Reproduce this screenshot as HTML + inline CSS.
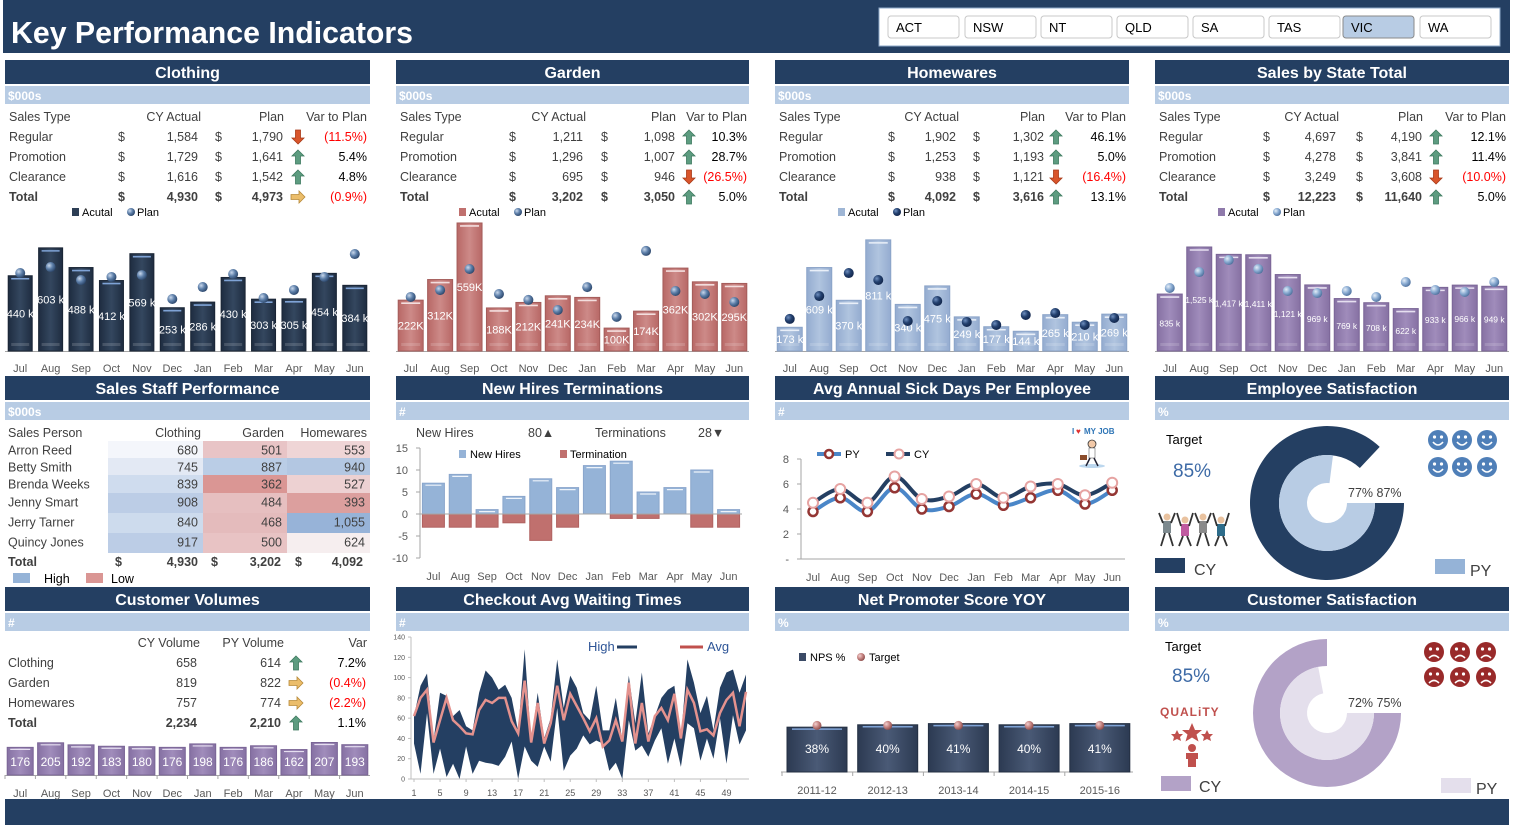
<!DOCTYPE html>
<html><head><meta charset="utf-8">
<style>
html,body{margin:0;padding:0;background:#fff;}
svg{display:block;font-family:"Liberation Sans",sans-serif;}
.t{font-size:12.5px;fill:#404040;}
.b{font-weight:bold;}
.ttl{font-size:16px;font-weight:bold;fill:#fff;}
.sub{font-size:12px;font-weight:bold;fill:#fff;}
.ax{font-size:11px;fill:#595959;}
</style></head><body>
<svg id="s" width="1514" height="829" xmlns="http://www.w3.org/2000/svg">
<defs>
<linearGradient id="gDark" x1="0" x2="1"><stop offset="0" stop-color="#1e2c40"/><stop offset="0.5" stop-color="#34475f"/><stop offset="1" stop-color="#1e2c40"/></linearGradient>
<linearGradient id="gRed" x1="0" x2="1"><stop offset="0" stop-color="#b86866"/><stop offset="0.5" stop-color="#cd8a88"/><stop offset="1" stop-color="#b86866"/></linearGradient>
<linearGradient id="gLB" x1="0" x2="1"><stop offset="0" stop-color="#94acd0"/><stop offset="0.5" stop-color="#b0c4df"/><stop offset="1" stop-color="#94acd0"/></linearGradient>
<linearGradient id="gPur" x1="0" x2="1"><stop offset="0" stop-color="#8671a3"/><stop offset="0.5" stop-color="#a08cbb"/><stop offset="1" stop-color="#8671a3"/></linearGradient>
<linearGradient id="gNps" x1="0" x2="1"><stop offset="0" stop-color="#2c3a52"/><stop offset="0.5" stop-color="#4a5a76"/><stop offset="1" stop-color="#2c3a52"/></linearGradient>
<radialGradient id="dBlue" cx="0.35" cy="0.35" r="0.7"><stop offset="0" stop-color="#c9d8ec"/><stop offset="0.5" stop-color="#5d7fa9"/><stop offset="1" stop-color="#2a4468"/></radialGradient>
<radialGradient id="dNavy" cx="0.35" cy="0.35" r="0.7"><stop offset="0" stop-color="#6f8fbf"/><stop offset="0.5" stop-color="#23406e"/><stop offset="1" stop-color="#12254a"/></radialGradient>
<radialGradient id="dLight" cx="0.35" cy="0.35" r="0.7"><stop offset="0" stop-color="#e4eef8"/><stop offset="0.5" stop-color="#8cadd3"/><stop offset="1" stop-color="#4c6f9c"/></radialGradient>
<radialGradient id="dPink" cx="0.35" cy="0.35" r="0.7"><stop offset="0" stop-color="#f1d0cf"/><stop offset="0.5" stop-color="#c78684"/><stop offset="1" stop-color="#8a4a48"/></radialGradient>
</defs>

<rect x="3" y="0" width="1507" height="53" fill="#243f62"/>
<text x="11" y="43" font-size="31" font-weight="bold" fill="#fff" textLength="402" lengthAdjust="spacingAndGlyphs">Key Performance Indicators</text>
<rect x="879" y="8" width="621" height="38" fill="#fff" stroke="#8ea9c8"/>
<g id="slicer"></g>
<g id="panels"></g>
<rect x="5" y="799" width="1504" height="26" fill="#243f62"/>
</svg>

<script>
const NS="http://www.w3.org/2000/svg";
const svg=document.getElementById('s');
function mk(tag,attrs,parent){const e=document.createElementNS(NS,tag);for(const k in attrs)e.setAttribute(k,attrs[k]);(parent||svg).appendChild(e);return e;}
function tx(x,y,str,attrs,parent){const e=mk('text',Object.assign({x:x,y:y},attrs||{}),parent);e.textContent=str;return e;}

const states=['ACT','NSW','NT','QLD','SA','TAS','VIC','WA'];
const stateX=[888,965,1041,1117,1193,1269,1343,1420];
const slicer=document.getElementById('slicer');
states.forEach((s,i)=>{
  const r=mk('rect',{x:stateX[i],y:16,width:71,height:22,rx:3,fill:s==='VIC'?'#b8cce4':'#fff',stroke:s==='VIC'?'#8a8a8a':'#c8c8c8'},slicer);
  
  
  const t=tx(stateX[i]+8,32,s,{'font-size':13,fill:'#000'},slicer);
  
  
});

const cols=[[5,365],[396,353],[775,354],[1155,354]];
const rows=[[60,86],[376,402],[587,613]];
const titles=[['Clothing','Garden','Homewares','Sales by State Total'],
  ['Sales Staff Performance','New Hires Terminations','Avg Annual Sick Days Per Employee','Employee Satisfaction'],
  ['Customer Volumes','Checkout Avg Waiting Times','Net Promoter Score YOY','Customer Satisfaction']];
const subs=[['$000s','$000s','$000s','$000s'],['$000s','#','#','%'],['#','#','%','%']];
const pg=document.getElementById('panels');
rows.forEach((r,ri)=>cols.forEach((c,ci)=>{
  const a=mk('rect',{x:c[0],y:r[0],width:c[1],height:24,fill:'#243f62'},pg);
  
  
  const t=tx(c[0]+c[1]/2,r[0]+18,titles[ri][ci],{'class':'ttl','text-anchor':'middle'},pg);
  
  
  const b=mk('rect',{x:c[0],y:r[1],width:c[1],height:18,fill:'#b8cce4'},pg);
  
  
  const u=tx(c[0]+3,r[1]+14,subs[ri][ci],{'class':'sub'},pg);
  
  
}));

function arrow(x,y,dir,parent){
  const fill={up:'#5d9c80',down:'#d9552b',right:'#ebbd6a'}[dir];
  const stroke={up:'#3e7a5f',down:'#a83a18',right:'#b88a3a'}[dir];
  const rot={up:0,down:180,right:90}[dir];
  const p=mk('path',{d:'M0,-7 L6,-1 L2.5,-1 L2.5,7 L-2.5,7 L-2.5,-1 L-6,-1 Z',fill:fill,stroke:stroke,'stroke-width':0.8,transform:'translate('+x+','+y+') rotate('+rot+')'},parent);
  
  
}

const rowNames=['Regular','Promotion','Clearance','Total'];
const clothingActual=['1,584','1,729','1,616','4,930'];
const clothingPlan=['1,790','1,641','1,542','4,973'];
const clothingVar=['(11.5%)','5.4%','4.8%','(0.9%)'];
const clothingDir=['down','up','up','right'];
const gardenActual=['1,211','1,296','695','3,202'];
const gardenPlan=['1,098','1,007','946','3,050'];
const gardenVar=['10.3%','28.7%','(26.5%)','5.0%'];
const gardenDir=['up','up','down','up'];
const homeActual=['1,902','1,253','938','4,092'];
const homePlan=['1,302','1,193','1,121','3,616'];
const homeVar=['46.1%','5.0%','(16.4%)','13.1%'];
const homeDir=['up','up','down','up'];
const stateActual=['4,697','4,278','3,249','12,223'];
const statePlan=['4,190','3,841','3,608','11,640'];
const stateVar=['12.1%','11.4%','(10.0%)','5.0%'];
const stateDir=['up','up','down','up'];
const tblCols=[[9,118,198,215,283,298,367],[400,509,583,601,675,689,747],[779,888,956,973,1044,1056,1126],[1159,1263,1336,1356,1422,1436,1506]];
const tblData=[[clothingActual,clothingPlan,clothingVar,clothingDir],[gardenActual,gardenPlan,gardenVar,gardenDir],[homeActual,homePlan,homeVar,homeDir],[stateActual,statePlan,stateVar,stateDir]];
tblData.forEach((d,pi)=>{
  const c=tblCols[pi];
  const g=mk('g',{});
  
  
  tx(c[0],121,'Sales Type',{'class':'t'},g);
  tx(c[2]+3,121,'CY Actual',{'class':'t','text-anchor':'end'},g);
  tx(c[4]+1,121,'Plan',{'class':'t','text-anchor':'end'},g);
  tx(c[6],121,'Var to Plan',{'class':'t','text-anchor':'end'},g);
  rowNames.forEach((n,ri)=>{
    const y=141+ri*20;const cl=ri===3?'t b':'t';
    tx(c[0],y,n,{'class':cl},g);
    tx(c[1],y,'$',{'class':cl},g);
    tx(c[2],y,d[0][ri],{'class':cl,'text-anchor':'end'},g);
    tx(c[3],y,'$',{'class':cl},g);
    tx(c[4],y,d[1][ri],{'class':cl,'text-anchor':'end'},g);
    arrow(c[5],y-4,d[3][ri],g);
    tx(c[6],y,d[2][ri],{'class':'t','text-anchor':'end',style:'fill:'+(d[2][ri][0]==='('?'#ff0000':'#000')},g);
  });
});

const months=['Jul','Aug','Sep','Oct','Nov','Dec','Jan','Feb','Mar','Apr','May','Jun'];
const clothingSales=[440,603,488,412,569,253,286,430,303,305,454,384];
const clothingPlanM=[456,491,415,433,444,304,374,450,310,357,433,567];
const gardenSales=[222,312,559,188,212,241,234,100,174,362,302,295];
const gardenPlanM=[236,266,358,249,223,179,279,149,437,262,249,214];
const homeSales=[173,609,370,811,340,475,249,177,144,265,210,269];
const homePlanM=[234,401,569,518,219,365,212,190,263,277,190,241];
const stateSales=[835,1525,1417,1411,1121,969,769,708,622,933,966,949];
const statePlanM=[924,1158,1334,1202,880,850,880,792,1012,894,865,1012];

function barChart(cfg){
  const g=mk('g',{});
  
  
  const base=351, plotH=131;
  const slot=cfg.w/12;
  const y=v=>base-v/cfg.max*plotH;
  const xc=i=>cfg.x+slot*(i+0.5);
  const ax=mk('line',{x1:cfg.x,x2:cfg.x+cfg.w,y1:base+0.5,y2:base+0.5,stroke:'#a6a6a6'},g);
  
  
  cfg.values.forEach((v,i)=>{
    const bw=cfg.bw, x0=xc(i)-bw/2, top=y(v);
    const r=mk('rect',{x:x0,y:top,width:bw,height:base-top,fill:cfg.fill,stroke:cfg.stroke,'stroke-width':1},g);
    
    
    mk('line',{x1:x0+3,x2:x0+bw-3,y1:top+3,y2:top+3,stroke:cfg.hl,'stroke-width':1.6},g);
    mk('rect',{x:x0+3,y:base-8,width:bw-6,height:3,fill:'#ffffff','fill-opacity':0.15},g);
    const lb=tx(xc(i),(top+base)/2+4,cfg.fmt(v),{'font-size':cfg.fs,fill:'#fff','text-anchor':'middle'},g);
    
    
    const m=tx(xc(i),372,months[i],{'class':'ax','text-anchor':'middle'},g);
    
    
  });
  cfg.plan.forEach((v,i)=>{
    const d=mk('circle',{cx:xc(i),cy:y(v),r:5,fill:cfg.dot},g);
    
    
  });
  const lx=cfg.legX;
  const l1=mk('rect',{x:lx,y:208,width:7,height:8,fill:cfg.legFill},g);
  
  
  tx(lx+10,216,'Acutal',{'font-size':11,fill:'#000'},g);
  const l2=mk('circle',{cx:lx+59,cy:212,r:4,fill:cfg.dot},g);
  
  
  tx(lx+65,216,'Plan',{'font-size':11,fill:'#000'},g);
}
barChart({name:'clothing-chart',x:5,w:365,max:766,values:clothingSales,plan:clothingPlanM,bw:24,fill:'url(#gDark)',stroke:'#1a2535',hl:'#7fa3d6',dot:'url(#dBlue)',fmt:v=>v+' k',fs:11,legX:72,legFill:'#2d3e55'});
barChart({name:'garden-chart',x:396,w:353,max:572,values:gardenSales,plan:gardenPlanM,bw:25,fill:'url(#gRed)',stroke:'#a45c5a',hl:'#f3dede',dot:'url(#dBlue)',fmt:v=>v+'K',fs:11,legX:459,legFill:'#c0706e'});
barChart({name:'homewares-chart',x:775,w:354,max:956,values:homeSales,plan:homePlanM,bw:25,fill:'url(#gLB)',stroke:'#8aa3c8',hl:'#e9eff8',dot:'url(#dNavy)',fmt:v=>v+' k',fs:11,legX:838,legFill:'#9fb6d5'});
barChart({name:'state-total-chart',x:1155,w:354,max:1921,values:stateSales,plan:statePlanM,bw:25,fill:'url(#gPur)',stroke:'#7a6596',hl:'#e6dff0',dot:'url(#dLight)',fmt:v=>v.toLocaleString('en-US')+' k',fs:8.5,legX:1218,legFill:'#8f7aab'});

const staffNames=['Arron Reed','Betty Smith','Brenda Weeks','Jenny Smart','Jerry Tarner','Quincy Jones'];
const staffClothing=[680,745,839,908,840,917];
const staffGarden=[501,887,362,484,468,500];
const staffHome=[553,940,527,393,1055,624];
const staffColors=[['#f4f6fb','#e8c4c6','#efd5d6'],['#e3e9f4','#bacde6','#b3c7e2'],['#cfdcee','#da9694','#edd1d2'],['#bccde6','#e6bfc0','#dc9f9e'],['#cddbed','#e4bbbc','#97b3d8'],['#bccde6','#e8c3c4','#f6eeef']];
(function(){
  const g=mk('g',{});
  
  
  const rowTop=[441,458,475,493,513,533,553];
  const cx=[108,203,287,370];
  tx(8,437,'Sales Person',{'class':'t'},g);
  tx(201,437,'Clothing',{'class':'t','text-anchor':'end'},g);
  tx(284,437,'Garden',{'class':'t','text-anchor':'end'},g);
  tx(367,437,'Homewares',{'class':'t','text-anchor':'end'},g);
  staffNames.forEach((n,i)=>{
    const vals=[staffClothing[i],staffGarden[i],staffHome[i]];
    for(let k=0;k<3;k++){
      const c=mk('rect',{x:cx[k],y:rowTop[i],width:cx[k+1]-cx[k],height:rowTop[i+1]-rowTop[i],fill:staffColors[i][k]},g);
      
      
      tx(cx[k+1]-5,rowTop[i]+13.5,vals[k].toLocaleString('en-US'),{'class':'t','text-anchor':'end'},g);
    }
    tx(8,rowTop[i]+13.5,n,{'class':'t'},g);
  });
  tx(8,566,'Total',{'class':'t b'},g);
  tx(115,566,'$',{'class':'t b'},g);tx(198,566,'4,930',{'class':'t b','text-anchor':'end'},g);
  tx(211,566,'$',{'class':'t b'},g);tx(281,566,'3,202',{'class':'t b','text-anchor':'end'},g);
  tx(295,566,'$',{'class':'t b'},g);tx(363,566,'4,092',{'class':'t b','text-anchor':'end'},g);
  const h=mk('rect',{x:13,y:573,width:17,height:10,fill:'#95b3d7'},g);
  
  
  tx(44,583,'High',{'class':'t',style:'fill:#000'},g);
  const lo=mk('rect',{x:86,y:573,width:17,height:10,fill:'#da9694'},g);
  
  
  tx(111,583,'Low',{'class':'t',style:'fill:#000'},g);
})();

const newHires=[7,9,1,4,8,6,11,12,5,6,10,1];
const terminations=[-3,-3,-3,-2,-6,-3,0,-1,-1,0,-3,-3];
const hiresTicks=[15,10,5,0,-5,-10];
(function(){
  const g=mk('g',{});
  
  
  const x0=420,x1=742,y=v=>514-v*4.4,slot=(x1-x0)/12;
  tx(416,437,'New Hires',{'class':'t'},g);
  tx(528,437,'80▲',{'class':'t'},g);
  tx(595,437,'Terminations',{'class':'t'},g);
  tx(698,437,'28▼',{'class':'t'},g);
  mk('line',{x1:x0,x2:x0,y1:y(15),y2:y(-10),stroke:'#a6a6a6'},g);
  hiresTicks.forEach(t=>{
    mk('line',{x1:x0-4,x2:x0,y1:y(t),y2:y(t),stroke:'#a6a6a6'},g);
    const l=tx(x0-12,y(t)+4,String(t),{'class':'ax','text-anchor':'end'},g);
    
    
  });
  newHires.forEach((v,i)=>{
    const cx=x0+slot*(i+0.5),bw=22;
    const r=mk('rect',{x:cx-bw/2,y:y(v),width:bw,height:y(0)-y(v),fill:'#95b3d7',stroke:'#8aa6cc'},g);
    
    
    mk('line',{x1:cx-bw/2+3,x2:cx+bw/2-3,y1:y(v)+2,y2:y(v)+2,stroke:'#eef3fa','stroke-width':1.2},g);
    const t=terminations[i];
    if(t!==0){
      const tr=mk('rect',{x:cx-bw/2,y:y(0),width:bw,height:y(t)-y(0),fill:'#c0706e',stroke:'#b06260'},g);
      
      
    }
    tx(cx,580,months[i],{'class':'ax','text-anchor':'middle'},g);
  });
  mk('line',{x1:x0,x2:x1,y1:y(0),y2:y(0),stroke:'#a6a6a6'},g);
  mk('rect',{x:459,y:450,width:7,height:8,fill:'#95b3d7'},g);
  tx(470,458,'New Hires',{'font-size':11,fill:'#000'},g);
  mk('rect',{x:560,y:450,width:7,height:8,fill:'#c0706e'},g);
  tx(570,458,'Termination',{'font-size':11,fill:'#000'},g);
})();

const sickPY=[3.8,4.9,3.8,5.7,4.0,4.2,5.2,4.3,4.9,5.5,4.4,5.5];
const sickCY=[4.5,5.6,4.5,6.6,4.8,5.0,6.0,4.9,5.8,6.0,5.1,6.1];
const sickTicks=[8,6,4,2,0];
function smooth(pts){
  let d='M'+pts[0][0]+','+pts[0][1];
  for(let i=0;i<pts.length-1;i++){
    const p0=pts[Math.max(0,i-1)],p1=pts[i],p2=pts[i+1],p3=pts[Math.min(pts.length-1,i+2)];
    const c1=[p1[0]+(p2[0]-p0[0])/6,p1[1]+(p2[1]-p0[1])/6],c2=[p2[0]-(p3[0]-p1[0])/6,p2[1]-(p3[1]-p1[1])/6];
    d+=' C'+c1+' '+c2+' '+p2;
  }
  return d;
}
(function(){
  const g=mk('g',{});
  
  
  const x0=801,x1=1125,y=v=>559-v*12.5,x=i=>813+i*27.2;
  mk('line',{x1:x0,x2:x0,y1:y(8),y2:y(0),stroke:'#a6a6a6'},g);
  mk('line',{x1:x0,x2:x1,y1:y(0),y2:y(0),stroke:'#a6a6a6'},g);
  sickTicks.forEach(t=>{
    mk('line',{x1:x0-4,x2:x0,y1:y(t),y2:y(t),stroke:'#a6a6a6'},g);
    const l=tx(x0-12,y(t)+4,t===0?'-':String(t),{'class':'ax','text-anchor':'end'},g);
    
    
  });
  months.forEach((m,i)=>tx(x(i),581,m,{'class':'ax','text-anchor':'middle'},g));
  const py=mk('path',{d:smooth(sickPY.map((v,i)=>[x(i),y(v)])),fill:'none',stroke:'#4a86c8','stroke-width':4},g);
  
  
  const cy=mk('path',{d:smooth(sickCY.map((v,i)=>[x(i),y(v)])),fill:'none',stroke:'#243f62','stroke-width':4},g);
  
  
  sickPY.forEach((v,i)=>{
    const c=mk('circle',{cx:x(i),cy:y(v),r:4.5,fill:'#fff',stroke:'#943634','stroke-width':2.5},g);
    
    
  });
  sickCY.forEach((v,i)=>{
    const c=mk('circle',{cx:x(i),cy:y(v),r:5,fill:'#fff',stroke:'#e6a3a2','stroke-width':2},g);
    
    
  });
  mk('line',{x1:817,x2:841,y1:454,y2:454,stroke:'#4a86c8','stroke-width':4},g);
  mk('circle',{cx:829,cy:454,r:4,fill:'#fff',stroke:'#943634','stroke-width':2.5},g);
  tx(845,458,'PY',{'font-size':11,fill:'#000'},g);
  mk('line',{x1:886,x2:910,y1:454,y2:454,stroke:'#243f62','stroke-width':4},g);
  mk('circle',{cx:899,cy:454,r:4.5,fill:'#fff',stroke:'#e6a3a2','stroke-width':2},g);
  tx(914,458,'CY',{'font-size':11,fill:'#000'},g);
  tx(1072,434,'I',{'font-size':8,'font-weight':'bold',fill:'#2e75b6'},g);
  tx(1076,434,'♥',{'font-size':8,fill:'#e03030'},g);
  tx(1084,434,'MY JOB',{'font-size':8,'font-weight':'bold',fill:'#2e75b6'},g);
  mk('ellipse',{cx:1092,cy:466,rx:13,ry:2,fill:'#bcd7ee'},g);
  mk('circle',{cx:1092,cy:444,r:4,fill:'#f2c9a8',stroke:'#333','stroke-width':0.8},g);
  mk('rect',{x:1089,y:448,width:6,height:10,fill:'#fff',stroke:'#666','stroke-width':0.6},g);
  mk('path',{d:'M1090,458 L1086,466 M1094,458 L1098,466',stroke:'#223',fill:'none','stroke-width':1.5},g);
  mk('rect',{x:1080,y:455,width:7,height:5,fill:'#8a4b2a'},g);
})();

const volNames=['Clothing','Garden','Homewares','Total'];
const volCY=['658','819','757','2,234'];
const volPY=['614','822','774','2,210'];
const volVar=['7.2%','(0.4%)','(2.2%)','1.1%'];
const volDir=['up','right','right','up'];
const volMonthly=[176,205,192,183,180,176,198,176,186,162,207,193];
(function(){
  const g=mk('g',{});
  
  
  tx(200,647,'CY Volume',{'class':'t','text-anchor':'end'},g);
  tx(284,647,'PY Volume',{'class':'t','text-anchor':'end'},g);
  tx(367,647,'Var',{'class':'t','text-anchor':'end'},g);
  volNames.forEach((n,i)=>{
    const yy=667+i*20,cl=i===3?'t b':'t';
    tx(8,yy,n,{'class':cl},g);
    tx(197,yy,volCY[i],{'class':cl,'text-anchor':'end'},g);
    tx(281,yy,volPY[i],{'class':cl,'text-anchor':'end'},g);
    arrow(296,yy-4,volDir[i],g);
    tx(366,yy,volVar[i],{'class':'t','text-anchor':'end',style:'fill:'+(volVar[i][0]==='('?'#ff0000':'#000')},g);
  });
  const base=775,slot=365/12;
  mk('line',{x1:5,x2:370,y1:base+0.5,y2:base+0.5,stroke:'#a6a6a6'},g);
  volMonthly.forEach((v,i)=>{
    const cx=5+slot*(i+0.5),bw=26,h=v*0.157;
    const r=mk('rect',{x:cx-bw/2,y:base-h,width:bw,height:h,fill:'url(#gPur)',stroke:'#7a6596'},g);
    
    
    mk('line',{x1:cx-bw/2+3,x2:cx+bw/2-3,y1:base-h+2,y2:base-h+2,stroke:'#e6dff0','stroke-width':1.2},g);
    tx(cx,766,String(v),{'font-size':12,fill:'#fff','text-anchor':'middle'},g);
    mk('line',{x1:5+slot*i,x2:5+slot*i,y1:base,y2:base+4,stroke:'#a6a6a6'},g);
    tx(cx,797,months[i],{'class':'ax','text-anchor':'middle'},g);
  });
})();

const waitHigh=[62,92,104,38,85,82,62,68,52,48,85,107,100,88,93,80,47,128,36,85,40,60,118,70,102,90,65,58,92,48,48,80,38,102,55,105,45,62,80,88,92,40,118,95,65,82,48,90,105,108,85,103];
const waitLow=[35,5,65,5,30,2,15,0,32,5,18,16,15,13,22,37,0,32,18,12,32,17,70,8,23,30,43,34,38,35,8,16,0,58,28,33,22,38,50,15,40,12,55,50,18,40,20,60,15,63,34,48];
const waitAvg=[62,80,88,36,58,80,58,52,45,44,68,78,75,80,80,57,45,97,36,75,35,55,92,58,84,72,60,47,60,32,38,58,37,95,35,75,37,62,70,58,84,40,88,75,47,49,43,65,78,85,52,86];
const waitTicks=[140,120,100,80,60,40,20,0];
(function(){
  const g=mk('g',{});
  
  
  const y=v=>779-v*1.014,n=waitHigh.length,x=i=>414+i*(332/(n-1));
  mk('line',{x1:411,x2:411,y1:y(140),y2:y(0),stroke:'#bfbfbf'},g);
  mk('line',{x1:411,x2:749,y1:y(0),y2:y(0),stroke:'#bfbfbf'},g);
  waitTicks.forEach(t=>{
    mk('line',{x1:408,x2:411,y1:y(t),y2:y(t),stroke:'#bfbfbf'},g);
    tx(405,y(t)+2.5,String(t),{'font-size':7,fill:'#595959','text-anchor':'end'},g);
  });
  let pts=waitHigh.map((v,i)=>x(i)+','+y(v));
  pts=pts.concat(waitLow.map((v,i)=>x(i)+','+y(v)).reverse());
  const a=mk('polygon',{points:pts.join(' '),fill:'#243f62'},g);
  
  
  const l=mk('polyline',{points:waitAvg.map((v,i)=>x(i)+','+y(v)).join(' '),fill:'none',stroke:'#e4928e','stroke-width':2.5},g);
  
  
  for(let i=0;i<n;i+=4){ mk('line',{x1:x(i),x2:x(i),y1:y(0),y2:y(0)+3,stroke:'#bfbfbf'},g); tx(x(i),796,String(i+1),{'font-size':9,fill:'#595959','text-anchor':'middle'},g); }
  tx(588,651,'High',{'font-size':13,fill:'#2e5597'},g);
  mk('line',{x1:617,x2:637,y1:647,y2:647,stroke:'#243f62','stroke-width':3},g);
  mk('line',{x1:680,x2:703,y1:647,y2:647,stroke:'#c0504d','stroke-width':3},g);
  tx(707,651,'Avg',{'font-size':13,fill:'#2e5597'},g);
})();

const npsYears=['2011-12','2012-13','2013-14','2014-15','2015-16'];
const npsValues=[38,40,41,40,41];
const npsTarget=[39.5,39.5,39.5,39.5,39.5];
(function(){
  const g=mk('g',{});
  
  
  const base=772,y=v=>base-v*1.18,x=i=>817+i*70.7;
  mk('line',{x1:781,x2:1133,y1:base,y2:base,stroke:'#a6a6a6'},g);
  npsValues.forEach((v,i)=>{
    const r=mk('rect',{x:x(i)-30,y:y(v),width:60,height:base-y(v),fill:'url(#gNps)',stroke:'#232f42'},g);
    
    
    mk('line',{x1:x(i)-25,x2:x(i)+25,y1:y(v)+2,y2:y(v)+2,stroke:'#7fa3d6','stroke-width':1.5},g);
    tx(x(i),753,v+'%',{'font-size':12,fill:'#fff','text-anchor':'middle'},g);
    tx(x(i),794,npsYears[i],{'class':'ax','text-anchor':'middle'},g);
    mk('line',{x1:x(i)-35,x2:x(i)-35,y1:base,y2:base+4,stroke:'#a6a6a6'},g);
  });
  npsTarget.forEach((v,i)=>{
    const d=mk('circle',{cx:x(i),cy:y(v),r:4.5,fill:'url(#dPink)'},g);
    
    
  });
  mk('rect',{x:799,y:653,width:7,height:8,fill:'#3b4a66'},g);
  tx(810,661,'NPS %',{'font-size':11,fill:'#000'},g);
  mk('circle',{cx:861,cy:657,r:4,fill:'url(#dPink)'},g);
  tx(869,661,'Target',{'font-size':11,fill:'#000'},g);
})();

const empSat=[87,77];
const custSat=[75,72];
function arcPath(cx,cy,r0,r1,frac){
  const a0=0,a1=frac*2*Math.PI,large=frac>0.5?1:0;
  const p=(r,a)=>[cx+r*Math.cos(a),cy+r*Math.sin(a)];
  const A=p(r1,a0),B=p(r1,a1),C=p(r0,a1),D=p(r0,a0);
  return 'M'+A+' A'+r1+','+r1+' 0 '+large+' 1 '+B+' L'+C+' A'+r0+','+r0+' 0 '+large+' 0 '+D+' Z';
}
function donut(cx,cy,vals,cOuter,cInner,name,ro,rm){
  const g=mk('g',{});
  
  
  const o=mk('path',{d:arcPath(cx,cy,rm,ro,vals[0]/100),fill:cOuter},g);
  
  
  const i=mk('path',{d:arcPath(cx,cy,20,rm,vals[1]/100),fill:cInner},g);
  
  
  tx(cx+21,cy-6,vals[1]+'% '+vals[0]+'%',{'font-size':12.5,fill:'#404040'},g);
}
donut(1327,503,empSat,'#243f62','#b8cce4','employee-satisfaction-donut',77,48);
donut(1327,713,custSat,'#b3a2c7','#e4dfec','customer-satisfaction-donut',74,47);

function faces(xs,ys,color,happy,name){
  xs.forEach(x=>ys.forEach(y=>{
    const g=mk('g',{});
    
    
    mk('circle',{cx:x,cy:y,r:10,fill:color},g);
    mk('circle',{cx:x-3.5,cy:y-3,r:1.6,fill:'#fff'},g);
    mk('circle',{cx:x+3.5,cy:y-3,r:1.6,fill:'#fff'},g);
    mk('path',{d:happy?('M'+(x-5)+','+(y+2)+' Q'+x+','+(y+8)+' '+(x+5)+','+(y+2)):('M'+(x-5)+','+(y+6)+' Q'+x+','+(y+1)+' '+(x+5)+','+(y+6)),stroke:'#fff','stroke-width':1.6,fill:'none'},g);
  }));
}
faces([1438,1462,1487],[440,467],'#4f7fb8',true,'happy-face-icon');
faces([1434,1460,1486],[652,677],'#992a2a',false,'sad-face-icon');

(function(){
  const g=mk('g',{});
  
  
  tx(1166,444,'Target',{'font-size':13,fill:'#000'},g);
  tx(1173,477,'85%',{'font-size':19,fill:'#3d6aa6'},g);
  mk('rect',{x:1155,y:558,width:30,height:15,fill:'#243f62'},g);
  tx(1194,575,'CY',{'font-size':16,fill:'#404040'},g);
  mk('rect',{x:1435,y:559,width:30,height:15,fill:'#95b3d7'},g);
  tx(1470,576,'PY',{'font-size':16,fill:'#404040'},g);
  tx(1165,651,'Target',{'font-size':13,fill:'#000'},g);
  tx(1172,682,'85%',{'font-size':19,fill:'#3d6aa6'},g);
  mk('rect',{x:1161,y:776,width:30,height:15,fill:'#b3a2c7'},g);
  tx(1199,792,'CY',{'font-size':16,fill:'#404040'},g);
  mk('rect',{x:1441,y:778,width:30,height:15,fill:'#e4dfec'},g);
  tx(1476,794,'PY',{'font-size':16,fill:'#404040'},g);
  const pc=['#7d8a8f','#c05aa0','#8a8a8a','#2d6c8a'];
  pc.forEach((c,i)=>{
    const px=1167+i*18;
    mk('circle',{cx:px,cy:517+(i%2)*3,r:3.5,fill:'#e9c29f'},g);
    mk('rect',{x:px-4,y:521+(i%2)*3,width:8,height:12,fill:c},g);
    mk('path',{d:'M'+(px-4)+','+(523+(i%2)*3)+' L'+(px-8)+','+(513)+' M'+(px+4)+','+(523+(i%2)*3)+' L'+(px+8)+','+513+' M'+(px-2)+','+(533+(i%2)*3)+' L'+(px-6)+','+546+' M'+(px+2)+','+(533+(i%2)*3)+' L'+(px+6)+','+546,stroke:'#333','stroke-width':1.8,fill:'none'},g);
  });
  tx(1160,716,'QUALiTY',{'font-size':12,'font-weight':'bold',fill:'#c0504d','letter-spacing':'1'},g);
  mk('path',{d:'M1192,723 l3,7 7,0 -5.5,4.5 2,7 -6.5,-4 -6.5,4 2,-7 -5.5,-4.5 7,0 z',fill:'#c0504d'},g);
  mk('path',{d:'M1177,730 l2,4 4,0 -3,3 1,4 -4,-2 -4,2 1,-4 -3,-3 4,0 z',fill:'#c0504d'},g);
  mk('path',{d:'M1207,730 l2,4 4,0 -3,3 1,4 -4,-2 -4,2 1,-4 -3,-3 4,0 z',fill:'#c0504d'},g);
  mk('circle',{cx:1192,cy:748,r:4,fill:'#c0504d'},g);
  mk('path',{d:'M1186,753 h12 v6 h-2 v8 h-8 v-8 h-2 z',fill:'#c0504d'},g);
})();
</script>
</body></html>
